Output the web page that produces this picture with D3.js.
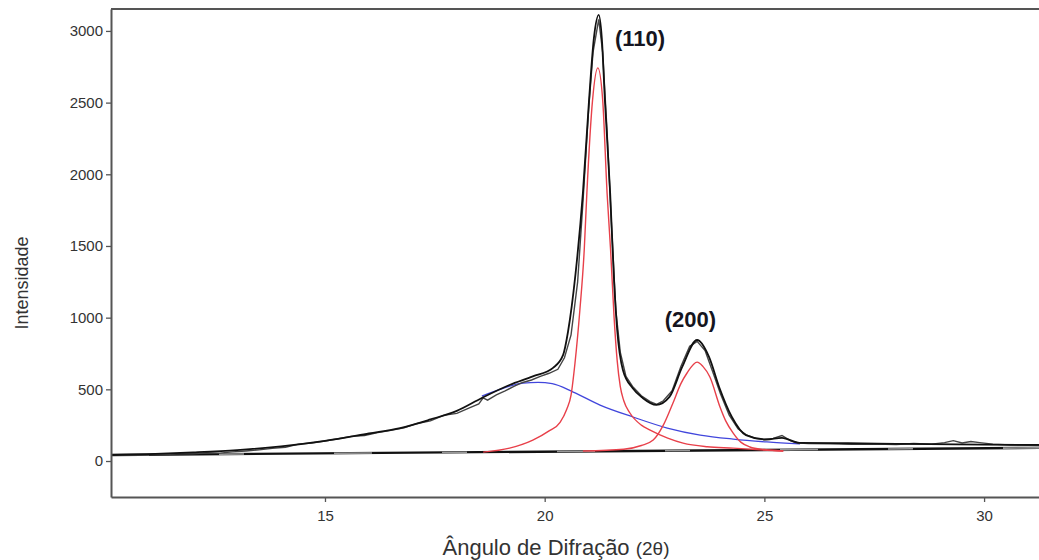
<!DOCTYPE html>
<html>
<head>
<meta charset="utf-8">
<script src="https://cdn.jsdelivr.net/npm/d3@7"></script>
<style>
    body { margin: 0; background: #fff; }
    svg { display: block; font-family: 'Liberation Sans', Arial, sans-serif; }
</style>
</head>
<body>
<svg></svg>
<script>
// values: [2theta, intensity]
const observed = [
    [10.13, 40], [10.5, 44], [10.8, 41], [11.1, 47], [11.4, 45], [11.7, 52], [12.0, 50], [12.3, 58],
    [12.6, 55], [12.9, 64], [13.2, 70], [13.5, 78], [13.8, 88], [14.1, 96], [14.4, 118], [14.7, 126],
    [15.0, 140], [15.3, 155], [15.6, 172], [15.9, 178], [16.2, 198], [16.5, 214], [16.8, 232], [17.1, 262],
    [17.4, 280], [17.7, 318], [18.0, 332], [18.3, 372], [18.5, 398], [18.6, 440], [18.7, 425], [18.9, 462],
    [19.1, 490], [19.3, 520], [19.5, 548], [19.7, 565], [19.9, 590], [20.1, 612], [20.3, 640], [20.45, 720],
    [20.6, 880], [20.75, 1250], [20.87, 1800], [21.0, 2450], [21.1, 2850], [21.23, 3080], [21.32, 2850],
    [21.42, 2300], [21.52, 1650], [21.62, 1050], [21.72, 760], [21.85, 590], [22.0, 520], [22.2, 455],
    [22.4, 415], [22.55, 395], [22.7, 420], [22.9, 490], [23.1, 660], [23.3, 800], [23.47, 835], [23.65, 770],
    [23.85, 600], [24.0, 470], [24.2, 320], [24.4, 225], [24.6, 180], [24.8, 158], [25.0, 150], [25.2, 158],
    [25.4, 178], [25.6, 140], [25.8, 125], [26.0, 122], [26.5, 120], [27.0, 116], [27.5, 118], [28.0, 115],
    [28.4, 122], [28.8, 118], [29.1, 128], [29.3, 142], [29.5, 126], [29.7, 136], [29.9, 128], [30.2, 118],
    [30.6, 112], [31.0, 110], [31.25, 108]
];

const fitTotal = [
    [10.13, 42], [11, 48], [12, 60], [13, 76], [14, 102], [15, 140], [16, 192], [16.71, 230], [17.4, 290],
    [18.0, 350], [18.57, 440], [19.2, 530], [19.73, 590], [20.19, 650], [20.42, 740], [20.53, 900],
    [20.7, 1300], [20.87, 1870], [21.01, 2519], [21.12, 2950], [21.23, 3112], [21.3, 2950], [21.37, 2519],
    [21.49, 1870], [21.58, 1250], [21.65, 914], [21.78, 635], [22.0, 509], [22.23, 440], [22.54, 391],
    [22.84, 447], [23.13, 656], [23.47, 844], [23.74, 726], [23.97, 516], [24.26, 307], [24.58, 181],
    [25.04, 150], [25.4, 162], [25.8, 126], [26.9, 124], [28, 120], [30, 114], [31.25, 112]
];

const amorphous = [
    [18.57, 453], [18.98, 500], [19.51, 544], [19.85, 548], [20.17, 540], [20.65, 481], [21.26, 390],
    [22.01, 307], [22.79, 230], [23.54, 181], [24.29, 153], [25.06, 133], [25.81, 119]
];

const peak110 = [
    [18.6, 62], [19.2, 90], [19.73, 146], [20.1, 210], [20.35, 270], [20.5, 360], [20.6, 460], [20.69, 684],
    [20.8, 1050], [20.9, 1472], [20.96, 1870], [21.09, 2519], [21.21, 2742], [21.32, 2519], [21.42, 1870],
    [21.5, 1472], [21.58, 1000], [21.65, 700], [21.72, 520], [21.8, 420], [21.94, 335], [22.2, 250],
    [22.4, 216], [22.8, 160], [23.15, 125], [23.7, 100], [24.29, 90], [24.9, 78], [25.43, 70]
];

const peak200 = [
    [20.87, 70], [21.8, 82], [22.2, 108], [22.47, 146], [22.7, 250], [22.92, 405], [23.1, 540], [23.24, 614],
    [23.47, 690], [23.6, 660], [23.76, 586], [23.99, 377], [24.12, 280], [24.29, 195], [24.47, 130],
    [24.67, 98], [25.0, 80], [25.43, 70]
];

const baseline = [[10.13, 42], [31.25, 92]];

const xTicks = [15, 20, 25, 30];
const yTicks = [0, 500, 1000, 1500, 2000, 2500, 3000];
const peakLabels = [
    { text: '(110)', x: 21.6, y: 2895 },
    { text: '(200)', x: 22.73, y: 935 }
];

drawChart();

function drawChart() {
    const width = 1039;
    const height = 560;
    const margin = { left: 111, top: 9, right: 0, bottom: 63 };

    let svg = d3.select('svg')
                .attr('width', width)
                .attr('height', height);

    let xScale = d3.scaleLinear()
                    .domain([10.13, 31.25])
                    .range([margin.left, width - margin.right]);

    let yScale = d3.scaleLinear()
                    .domain([-251, 3153])
                    .range([height - margin.bottom, margin.top]);

    svg.append('defs')
        .append('clipPath')
            .attr('id', 'plot-clip')
        .append('rect')
            .attr('x', margin.left)
            .attr('y', margin.top)
            .attr('width', width - margin.left - margin.right)
            .attr('height', height - margin.top - margin.bottom);

    let line = d3.line()
                .x(d => xScale(d[0]))
                .y(d => yScale(d[1]))
                .curve(d3.curveMonotoneX);

    let plot = svg.append('g').attr('clip-path', 'url(#plot-clip)');

    // baseline drawn twice to get the broken black/grey look
    plot.append('path')
        .datum(baseline)
        .attr('d', line)
        .attr('fill', 'none')
        .attr('stroke', '#111')
        .attr('stroke-width', 2.4);
    plot.append('path')
        .datum(baseline)
        .attr('d', line)
        .attr('fill', 'none')
        .attr('stroke', '#999')
        .attr('stroke-width', 1.6)
        .attr('stroke-dasharray', '38,70,25,90');

    plot.append('path')
        .datum(amorphous)
        .attr('d', line)
        .attr('fill', 'none')
        .attr('stroke', '#4146dc')
        .attr('stroke-width', 1.3);

    [peak110, peak200].forEach(p => {
        plot.append('path')
            .datum(p)
            .attr('d', line)
            .attr('fill', 'none')
            .attr('stroke', '#e8404a')
            .attr('stroke-width', 1.4);
    });

    plot.append('path')
        .datum(observed)
        .attr('d', line.curve(d3.curveLinear))
        .attr('fill', 'none')
        .attr('stroke', '#444')
        .attr('stroke-width', 1.4);

    plot.append('path')
        .datum(fitTotal)
        .attr('d', line.curve(d3.curveMonotoneX))
        .attr('fill', 'none')
        .attr('stroke', '#111')
        .attr('stroke-width', 1.8);

    //Axes
    let xAxis = d3.axisBottom(xScale)
                    .tickValues(xTicks)
                    .tickSize(5)
                    .tickSizeOuter(0);
    let gx = svg.append('g')
                .attr('transform', `translate(0, ${height - margin.bottom})`)
                .call(xAxis);

    let yAxis = d3.axisLeft(yScale)
                    .tickValues(yTicks)
                    .tickFormat(d3.format('d'))
                    .tickSize(5)
                    .tickSizeOuter(0);
    let gy = svg.append('g')
                .attr('transform', `translate(${margin.left}, 0)`)
                .call(yAxis);

    [gx, gy].forEach(g => {
        g.select('.domain').attr('stroke', '#555').attr('stroke-width', 2);
        g.selectAll('.tick line').attr('stroke', '#555').attr('stroke-width', 1.3);
        g.selectAll('.tick text')
            .attr('fill', '#333')
            .style('font-size', '15px')
            .style('font-family', "'Liberation Sans', Arial, sans-serif");
    });
    gx.selectAll('.tick text').attr('dy', '1.05em');

    // top frame line
    svg.append('line')
        .attr('x1', margin.left)
        .attr('x2', width)
        .attr('y1', margin.top)
        .attr('y2', margin.top)
        .attr('stroke', '#555')
        .attr('stroke-width', 2);

    // peak labels
    svg.selectAll('.peak-label')
        .data(peakLabels)
        .enter()
        .append('text')
            .classed('peak-label', true)
            .attr('x', d => xScale(d.x))
            .attr('y', d => yScale(d.y))
            .attr('font-size', 22)
            .attr('font-weight', 'bold')
            .attr('fill', '#151520')
            .text(d => d.text);

    //Axes labels
    let xLabel = svg.append('text')
                    .attr('x', 556)
                    .attr('y', 555)
                    .attr('text-anchor', 'middle')
                    .attr('fill', '#333')
                    .style('font-size', '22px');
    xLabel.append('tspan').text('Ângulo de Difração ');
    xLabel.append('tspan').style('font-size', '19px').text('(2θ)');

    svg.append('text')
        .text('Intensidade')
        .attr('x', 22)
        .attr('y', 283)
        .attr('transform', 'rotate(-90 22,283)')
        .attr('text-anchor', 'middle')
        .attr('dy', '0.35em')
        .attr('fill', '#333')
        .style('font-size', '18px');
}
</script>
</body>
</html>
